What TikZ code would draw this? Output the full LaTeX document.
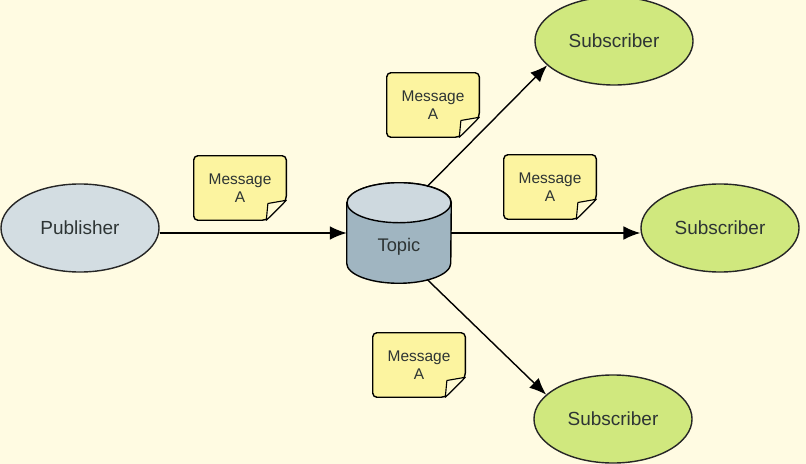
\documentclass[tikz,border=0pt]{standalone}
\usepackage{fontspec}
\setmainfont{Liberation Sans}
\usetikzlibrary{shapes.geometric,arrows.meta}

\definecolor{paper}{RGB}{255,251,226}
\definecolor{inkgray}{RGB}{45,52,52}
\definecolor{pubgray}{RGB}{211,221,226}
\definecolor{topicside}{RGB}{160,181,193}
\definecolor{topictop}{RGB}{206,217,223}
\definecolor{subgreen}{RGB}{208,232,126}
\definecolor{noteyellow}{RGB}{252,244,160}
\definecolor{noteflap}{RGB}{254,250,212}

\tikzset{
  actor/.style={ellipse, draw=black!85, line width=1pt, inner sep=0pt,
    minimum width=3.95cm, minimum height=2.2cm, text=inkgray,
    font=\fontsize{13.5}{15}\selectfont},
  pubnode/.style={actor, fill=pubgray},
  subnode/.style={actor, fill=subgreen},
  notenode/.style={rectangle, inner sep=0pt, minimum width=2.3cm, minimum height=1.6cm,
    align=center, text=inkgray, font=\fontsize{11}{13}\selectfont},
  flow/.style={line width=1pt, -{Latex[length=4.2mm,width=3.4mm]}}
}

\begin{document}
\begin{tikzpicture}[x=0.025cm, y=-0.025cm]
  \fill[paper] (0,0) rectangle (806,464);
  \useasboundingbox (0,0) rectangle (806,464);

  % publisher and subscribers
  \node[pubnode] (pub) at (80,228) {Publisher};
  \node[subnode] (sub1) at (614,41) {Subscriber};
  \node[subnode] (sub2) at (720,228) {Subscriber};
  \node[subnode] (sub3) at (613,419) {Subscriber};

  % topic cylinder
  \node[minimum width=2.6cm, minimum height=2.5cm, inner sep=0pt] (topic) at (399,233) {};
  \draw[fill=topicside, line width=1pt] ([yshift=-5mm]topic.north west) -- ([yshift=5mm]topic.south west)
    arc[start angle=180, end angle=360, x radius=1.3cm, y radius=5mm]
    -- ([yshift=-5mm]topic.north east)
    arc[start angle=0, end angle=180, x radius=1.3cm, y radius=5mm] -- cycle;
  \draw[fill=topictop, line width=1pt] ([yshift=-5mm]topic.north) ellipse[x radius=1.3cm, y radius=5mm];
  \node[text=inkgray, font=\fontsize{13}{15}\selectfont] (topiclbl) at ([yshift=-3.5mm]topic.center) {Topic};

  % arrows
  \draw[flow] (pub.east |- topic.west) -- (topic.west);
  \draw[flow] (topic.east) -- (topic.east -| sub2.west);
  \draw[flow] ([xshift=7mm,yshift=-1mm]topic.north) -- (sub1.200);
  \draw[flow] ([xshift=7mm,yshift=1mm]topic.south) -- (sub3.160);

  % message notes
  \foreach \n/\p in {msgpub/{240,188}, msgtop/{433,105}, msgmid/{550,187}, msgbot/{419,365}} {
    \node[notenode] (\n) at (\p) {Message\\A};
    \draw[fill=noteyellow, line width=1pt, rounded corners=3pt]
      ([yshift=5mm]\n.south east) -- (\n.north east) -- (\n.north west)
      -- (\n.south west) -- ([xshift=-5mm]\n.south east) -- cycle;
    \draw[fill=noteflap, line width=0.8pt, line join=round]
      ([xshift=-5mm]\n.south east) -- ([xshift=-4.6mm,yshift=4.2mm]\n.south east)
      -- ([yshift=5mm]\n.south east) -- cycle;
    \node[notenode] at (\n) {Message\\A};
  }
\end{tikzpicture}
\end{document}
